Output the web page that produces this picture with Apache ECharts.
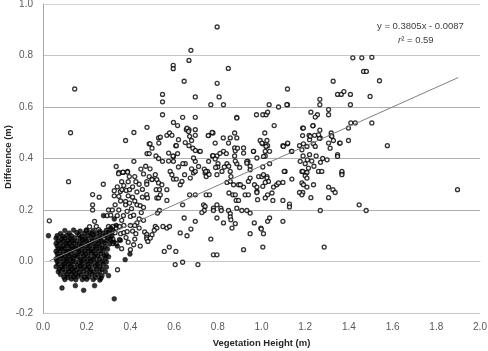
<!DOCTYPE html>
<html><head><meta charset="utf-8">
<script src="https://cdn.jsdelivr.net/npm/echarts@6/dist/echarts.min.js"></script>
<style>html,body{margin:0;padding:0;background:#fff}#c{width:488px;height:351px}</style>
</head><body><div id="c"></div>
<script>
// Axis ticks
const xTicks = [0.0,0.2,0.4,0.6,0.8,1.0,1.2,1.4,1.6,1.8,2.0];
const yTicks = [-0.2,0.0,0.2,0.4,0.6,0.8,1.0];
// Trendline coefficients and extent
const slope = 0.3805, intercept = -0.0087;
const lineXStart = 0.03, lineXEnd = 1.9;
// Open-circle points [height, difference]
const openPoints = [
[0.029,0.158],[0.117,0.31],[0.145,0.67],[0.126,0.50],
[0.197,0.12],[0.213,0.135],[0.224,0.108],[0.18,0.085],[0.227,0.26],[0.257,0.25],[0.276,0.30],[0.227,0.22],[0.227,0.20],[0.236,0.156],[0.244,0.136],[0.255,0.124],[0.30,0.20],[0.293,0.178],[0.31,0.18],
[0.326,0.275],[0.326,0.255],[0.354,0.272],[0.361,0.279],[0.381,0.276],[0.396,0.279],[0.347,0.346],[0.366,0.346],[0.387,0.35],[0.347,0.253],[0.378,0.233],[0.378,0.22],[0.396,0.227],[0.43,0.22],[0.445,0.217],[0.475,0.31],[0.475,0.30],[0.475,0.26],[0.478,0.247],[0.317,0.20],[0.347,0.20],[0.34,0.178],[0.368,0.178],[0.40,0.175],[0.415,0.18],[0.30,0.136],[0.32,0.136],[0.335,0.13],[0.35,0.136],[0.37,0.14],[0.305,0.11],[0.33,0.112],[0.355,0.108],[0.37,0.112],[0.385,0.116],[0.41,0.118],[0.425,0.108],[0.465,0.115],[0.475,0.105],[0.31,0.085],[0.32,0.087],[0.35,0.085],[0.38,0.093],[0.42,0.087],[0.445,0.06],[0.475,0.095],[0.475,0.088],[0.48,0.078],[0.32,0.07],[0.335,0.07],[0.36,0.05],[0.40,0.046],[0.341,-0.032],
[0.335,0.369],[0.346,0.341],[0.366,0.347],[0.387,0.347],[0.378,0.47],[0.416,0.501],[0.416,0.389],[0.448,0.359],[0.476,0.521],[0.486,0.457],[0.476,0.419],[0.486,0.419],[0.499,0.44],[0.486,0.33],[0.50,0.32],
[0.42,0.33],[0.44,0.30],[0.43,0.27],[0.455,0.25],[0.46,0.34],[0.41,0.25],[0.45,0.19],[0.43,0.15],[0.46,0.16],[0.40,0.14],[0.44,0.13],[0.39,0.31],[0.36,0.31],[0.41,0.29],[0.455,0.28],[0.49,0.36],[0.47,0.37],
[0.36,0.16],[0.385,0.195],[0.405,0.205],[0.355,0.235],[0.39,0.255],[0.42,0.235],[0.34,0.29],[0.37,0.295],[0.425,0.31],[0.395,0.33],[0.33,0.22],[0.44,0.165],[0.42,0.14],[0.39,0.075],[0.415,0.065],[0.46,0.21],
[0.514,0.337],[0.499,0.318],[0.521,0.318],[0.529,0.305],[0.544,0.298],[0.518,0.279],[0.533,0.279],[0.521,0.247],[0.529,0.247],[0.567,0.279],[0.567,0.237],[0.537,0.259],[0.582,0.35],[0.59,0.337],[0.597,0.32],[0.61,0.32],[0.628,0.298],[0.636,0.311],[0.648,0.337],[0.674,0.324],[0.689,0.344],[0.697,0.35],[0.742,0.344],[0.747,0.33],[0.753,0.35],[0.796,0.337],[0.819,0.35],[0.857,0.35],[0.86,0.33],[0.842,0.307],[0.857,0.311],[0.872,0.298],[0.895,0.298],[0.918,0.289],[0.94,0.311],[0.948,0.324],[0.968,0.298],[0.979,0.272],[0.982,0.24],[0.851,0.266],[0.869,0.259],[0.88,0.259],[0.884,0.237],[0.895,0.237],[0.925,0.259],[0.94,0.259],[0.671,0.259],[0.697,0.259],[0.747,0.259],[0.762,0.259],[0.639,0.22],[0.735,0.22],[0.742,0.214],[0.738,0.198],[0.727,0.19],[0.78,0.207],[0.78,0.198],[0.796,0.22],[0.814,0.207],[0.816,0.198],[0.849,0.198],[0.857,0.186],[0.857,0.173],[0.86,0.162],[0.887,0.207],[0.91,0.198],[0.933,0.198],[0.948,0.188],[0.533,0.198],[0.524,0.188],[0.646,0.169],[0.697,0.156],[0.796,0.169],[0.826,0.15],[0.865,0.13],[0.88,0.147],[0.967,0.15],[0.948,0.108],[0.514,0.136],[0.521,0.13],[0.509,0.121],[0.499,0.104],[0.491,0.091],[0.549,0.136],[0.567,0.13],[0.579,0.136],[0.628,0.111],[0.659,0.10],[0.677,0.126],[0.768,0.087],[0.555,0.039],[0.578,0.056],[0.608,0.039],[0.918,0.046],[0.78,0.026],[0.796,0.026],[0.605,-0.012],[0.639,-0.003],[0.709,-0.012],[0.979,0.289],[0.979,0.268],[0.903,0.298],[0.997,0.13],
[0.797,0.911],[0.677,0.82],[0.668,0.781],[0.596,0.762],[0.596,0.749],[0.848,0.75],[0.646,0.70],[0.797,0.692],[0.547,0.649],[0.547,0.62],[0.697,0.639],[0.806,0.639],[0.768,0.609],[0.826,0.609],[0.547,0.57],[0.639,0.56],[0.697,0.56],[0.887,0.56],[0.977,0.57],[0.597,0.54],[0.616,0.528],[0.529,0.48],[0.537,0.483],[0.567,0.49],[0.579,0.499],[0.59,0.49],[0.656,0.512],[0.668,0.512],[0.697,0.512],[0.697,0.49],[0.68,0.47],[0.758,0.49],[0.778,0.499],[0.877,0.499],[0.887,0.48],[0.825,0.48],[0.857,0.48],[0.788,0.46],[0.849,0.46],[0.49,0.457],[0.608,0.45],[0.668,0.45],[0.686,0.44],[0.716,0.428],[0.877,0.441],[0.918,0.441],[0.918,0.421],[0.877,0.41],[0.517,0.41],[0.529,0.40],[0.575,0.421],[0.597,0.408],[0.616,0.419],[0.776,0.41],[0.796,0.41],[0.826,0.428],[0.839,0.419],[0.964,0.428],[0.938,0.389],[0.979,0.402],[0.547,0.389],[0.597,0.389],[0.651,0.38],[0.697,0.389],[0.758,0.389],[0.801,0.38],[0.842,0.38],[0.887,0.38],[0.948,0.37],[0.62,0.367],[0.68,0.36],[0.80,0.367],[0.83,0.367],[0.85,0.37],[0.90,0.365],[0.64,0.38],
[0.53,0.46],[0.62,0.473],[0.575,0.39],[0.595,0.41],[0.61,0.45],[0.651,0.462],[0.659,0.518],[0.666,0.505],[0.671,0.486],[0.689,0.402],[0.697,0.431],[0.712,0.369],[0.72,0.428],[0.738,0.359],[0.745,0.35],[0.76,0.338],[0.756,0.489],[0.774,0.501],[0.778,0.411],[0.788,0.398],[0.81,0.42],[0.79,0.365],[0.88,0.43],[0.88,0.39],[0.89,0.44],[0.933,0.389],[0.887,0.557],
[1.418,0.791],[1.459,0.791],[1.505,0.793],[1.467,0.738],[1.48,0.738],[1.328,0.70],[1.54,0.702],[1.119,0.67],[1.348,0.649],[1.365,0.649],[1.377,0.66],[1.407,0.649],[1.267,0.63],[1.267,0.609],[1.035,0.609],[1.078,0.60],[1.119,0.609],[1.407,0.609],[1.497,0.641],[1.307,0.59],[1.307,0.57],[1.006,0.57],[1.021,0.57],[1.028,0.58],[1.226,0.58],[1.256,0.57],[1.246,0.561],[1.058,0.528],[1.236,0.528],[1.188,0.518],[1.267,0.51],[1.015,0.499],[1.243,0.49],[1.269,0.48],[1.188,0.489],[1.218,0.49],[1.319,0.499],[1.319,0.489],[1.329,0.47],[1.398,0.518],[1.409,0.538],[1.429,0.538],[1.505,0.538],[1.398,0.47],[0.994,0.47],[1.006,0.457],[1.025,0.47],[1.028,0.45],[1.098,0.45],[1.119,0.457],[1.017,0.428],[1.037,0.428],[1.017,0.41],[1.037,0.38],[1.137,0.428],[1.174,0.45],[1.192,0.457],[1.22,0.473],[1.238,0.457],[1.265,0.478],[1.348,0.415],[1.348,0.408],[1.357,0.46],[1.006,0.367],[1.576,0.45],[0.963,0.428],[1.002,0.46],[1.021,0.447],[1.009,0.408],[0.933,0.382],[0.948,0.356],[0.987,0.33],[1.002,0.33],[1.025,0.33],[1.108,0.35],[1.10,0.447],[1.12,0.46],[1.139,0.428],[1.177,0.389],[1.185,0.35],[1.2,0.344],[1.215,0.363],[1.185,0.434],[1.208,0.447],[1.223,0.486],[1.246,0.447],[1.307,0.46],[1.314,0.44],[1.322,0.486],[1.36,0.46],[1.368,0.344],[1.261,0.492],[1.235,0.527],[1.192,0.518],[1.116,0.609],
[1.19,0.41],[1.22,0.415],[1.25,0.41],[1.28,0.40],[1.21,0.395],[1.23,0.39],[1.30,0.395],[1.20,0.38],[1.24,0.37],[1.27,0.385],
[1.009,0.337],[1.025,0.324],[1.032,0.311],[1.006,0.292],[1.017,0.307],[1.055,0.289],[1.07,0.298],[1.078,0.305],[1.098,0.307],[1.104,0.35],[1.048,0.266],[1.028,0.259],[1.017,0.247],[1.052,0.237],[1.098,0.237],[1.139,0.32],[1.189,0.35],[1.208,0.346],[1.2,0.333],[1.208,0.324],[1.185,0.305],[1.192,0.298],[1.208,0.289],[1.189,0.268],[1.174,0.268],[1.185,0.259],[1.238,0.298],[1.226,0.248],[1.261,0.35],[1.276,0.35],[1.307,0.289],[1.327,0.279],[1.337,0.268],[1.307,0.248],[1.368,0.35],[1.368,0.337],[1.128,0.223],[1.128,0.212],[1.269,0.198],[1.447,0.22],[1.479,0.198],[1.037,0.169],[1.028,0.156],[1.098,0.156],[0.999,0.126],[1.009,0.108],[1.006,0.056],[1.287,0.056],[1.897,0.279]
];
// Filled points [height, difference]
const filledPoints = [
[0.10,0.12],[0.14,0.122],[0.17,0.118],[0.20,0.123],[0.23,0.12],[0.26,0.117],[0.29,0.121],
[0.08,0.108],[0.12,0.11],[0.155,0.112],[0.19,0.109],[0.215,0.111],[0.245,0.108],[0.275,0.11],[0.30,0.112],
[0.025,0.10],[0.065,0.10],[0.09,0.098],[0.11,0.101],[0.13,0.099],[0.165,0.102],[0.18,0.097],[0.205,0.1],[0.23,0.103],[0.26,0.099],[0.285,0.1],
[0.06,0.09],[0.085,0.088],[0.10,0.091],[0.125,0.089],[0.145,0.092],[0.17,0.09],[0.195,0.088],[0.22,0.091],[0.24,0.089],[0.265,0.09],[0.295,0.092],[0.31,0.088],
[0.07,0.08],[0.095,0.079],[0.115,0.081],[0.135,0.08],[0.155,0.078],[0.18,0.082],[0.20,0.08],[0.225,0.079],[0.25,0.081],[0.27,0.078],[0.29,0.08],
[0.06,0.07],[0.08,0.071],[0.105,0.069],[0.12,0.07],[0.14,0.072],[0.165,0.068],[0.185,0.07],[0.21,0.071],[0.235,0.069],[0.255,0.07],[0.28,0.072],[0.305,0.068],
[0.065,0.06],[0.09,0.059],[0.11,0.061],[0.13,0.06],[0.15,0.058],[0.175,0.061],[0.195,0.06],[0.215,0.062],[0.24,0.059],[0.26,0.06],[0.285,0.058],
[0.07,0.05],[0.085,0.051],[0.10,0.049],[0.125,0.05],[0.145,0.052],[0.16,0.048],[0.18,0.05],[0.205,0.051],[0.225,0.049],[0.245,0.05],[0.27,0.052],[0.295,0.048],
[0.06,0.04],[0.08,0.041],[0.105,0.039],[0.12,0.04],[0.14,0.042],[0.165,0.038],[0.19,0.04],[0.21,0.041],[0.23,0.039],[0.255,0.04],[0.275,0.042],
[0.065,0.03],[0.09,0.029],[0.11,0.031],[0.13,0.03],[0.155,0.028],[0.175,0.031],[0.195,0.03],[0.22,0.032],[0.24,0.029],[0.265,0.03],[0.29,0.028],
[0.07,0.02],[0.085,0.021],[0.10,0.019],[0.12,0.02],[0.145,0.022],[0.16,0.018],[0.185,0.02],[0.205,0.021],[0.235,0.019],[0.25,0.02],[0.28,0.022],[0.30,0.018],
[0.06,0.01],[0.08,0.011],[0.105,0.009],[0.125,0.01],[0.14,0.012],[0.17,0.008],[0.19,0.01],[0.215,0.011],[0.23,0.009],[0.26,0.01],[0.285,0.012],
[0.065,0.0],[0.09,-0.001],[0.11,0.001],[0.135,0.0],[0.15,-0.002],[0.175,0.001],[0.20,0.0],[0.22,0.002],[0.245,-0.001],[0.27,0.0],[0.29,-0.002],
[0.07,-0.01],[0.095,-0.011],[0.115,-0.009],[0.13,-0.01],[0.16,-0.012],[0.18,-0.008],[0.205,-0.01],[0.225,-0.011],[0.25,-0.009],[0.275,-0.01],
[0.06,-0.02],[0.085,-0.021],[0.10,-0.019],[0.125,-0.02],[0.145,-0.022],[0.17,-0.018],[0.19,-0.02],[0.21,-0.021],[0.24,-0.019],[0.26,-0.02],[0.29,-0.022],
[0.075,-0.03],[0.09,-0.031],[0.115,-0.029],[0.135,-0.03],[0.155,-0.032],[0.175,-0.028],[0.20,-0.03],[0.22,-0.031],[0.245,-0.029],[0.27,-0.03],
[0.07,-0.04],[0.10,-0.041],[0.12,-0.039],[0.14,-0.04],[0.165,-0.042],[0.185,-0.038],[0.215,-0.04],[0.235,-0.041],[0.26,-0.039],[0.285,-0.04],
[0.08,-0.05],[0.11,-0.051],[0.13,-0.049],[0.15,-0.05],[0.175,-0.052],[0.20,-0.048],[0.225,-0.05],[0.25,-0.051],[0.27,-0.055],[0.30,-0.055],
[0.095,-0.06],[0.115,-0.062],[0.14,-0.06],[0.16,-0.058],[0.19,-0.061],[0.21,-0.06],[0.24,-0.062],[0.265,-0.065],
[0.10,-0.07],[0.13,-0.068],[0.15,-0.071],[0.18,-0.07],[0.20,-0.069],[0.23,-0.07],[0.26,-0.072],
[0.087,-0.103],[0.148,-0.094],[0.186,-0.112],[0.236,-0.094],[0.326,-0.145],
[0.376,0.007],[0.398,0.029],[0.277,0.178],[0.326,0.165],[0.31,0.13],[0.32,0.12],[0.335,0.14],[0.354,0.082],[0.34,0.06],[0.315,0.1],[0.325,0.075]
];

const chart = echarts.init(document.getElementById('c'), null, {renderer:'canvas'});
const fmt = v => v.toFixed(1);
chart.setOption({
  animation:false,
  backgroundColor:'#ffffff',
  grid:{left:43,right:8,top:4,bottom:38,containLabel:false,outerBoundsMode:'none'},
  xAxis:{type:'value',min:xTicks[0],max:xTicks[xTicks.length-1],interval:0.2,
    name:'Vegetation Height (m)',nameLocation:'middle',nameGap:25,
    nameTextStyle:{fontFamily:'Liberation Sans',fontWeight:'bold',fontSize:9.5,color:'#262626'},
    axisLine:{show:true,lineStyle:{color:'#c8c8c8',width:1}},axisTick:{show:false},splitLine:{show:false},
    axisLabel:{formatter:fmt,fontFamily:'Liberation Sans',fontSize:10,color:'#595959',margin:9}},
  yAxis:{type:'value',min:yTicks[0],max:yTicks[yTicks.length-1],interval:0.2,
    axisLine:{show:true,lineStyle:{color:'#a6a6a6',width:1}},axisTick:{show:false},
    splitLine:{show:true,lineStyle:{color:['#c8c8c8','#b0b0b0','#b0b0b0','#b0b0b0','#b0b0b0','#c4c4c4','#d4d4d4'],width:1}},
    axisLabel:{formatter:fmt,fontFamily:'Liberation Sans',fontSize:10,color:'#595959',margin:10}},
  series:[
    {type:'scatter',data:openPoints,symbol:'circle',symbolSize:4,
     itemStyle:{color:'#ffffff',borderColor:'#000000',borderWidth:1.3},z:3},
    {type:'scatter',data:filledPoints,symbol:'circle',symbolSize:4.8,
     itemStyle:{color:'#000000',borderColor:'#000000',borderWidth:0.6},z:4},
    {type:'line',data:[[lineXStart,slope*lineXStart+intercept],[lineXEnd,slope*lineXEnd+intercept]],
     showSymbol:false,symbol:'none',lineStyle:{color:'#808080',width:1},z:5,silent:true}
  ],
  graphic:[
    {type:'text',x:8,y:157,rotation:Math.PI/2,style:{text:'Difference (m)',fontFamily:'Liberation Sans',fontWeight:'bold',fontSize:9.5,fill:'#262626',textAlign:'center',textVerticalAlign:'middle'}},
    {type:'text',left:377,top:21,style:{text:'y = 0.3805x - 0.0087',fontFamily:'Liberation Sans',fontSize:9.5,fill:'#404040'}},
    {type:'text',left:398,top:35,style:{text:'{i|r}² = 0.59',fontFamily:'Liberation Sans',fontSize:9.5,fill:'#404040',
      rich:{i:{fontStyle:'italic',fontFamily:'Liberation Sans',fontSize:9.5,fill:'#404040'}}}}
  ]
});
</script>
</body></html>
